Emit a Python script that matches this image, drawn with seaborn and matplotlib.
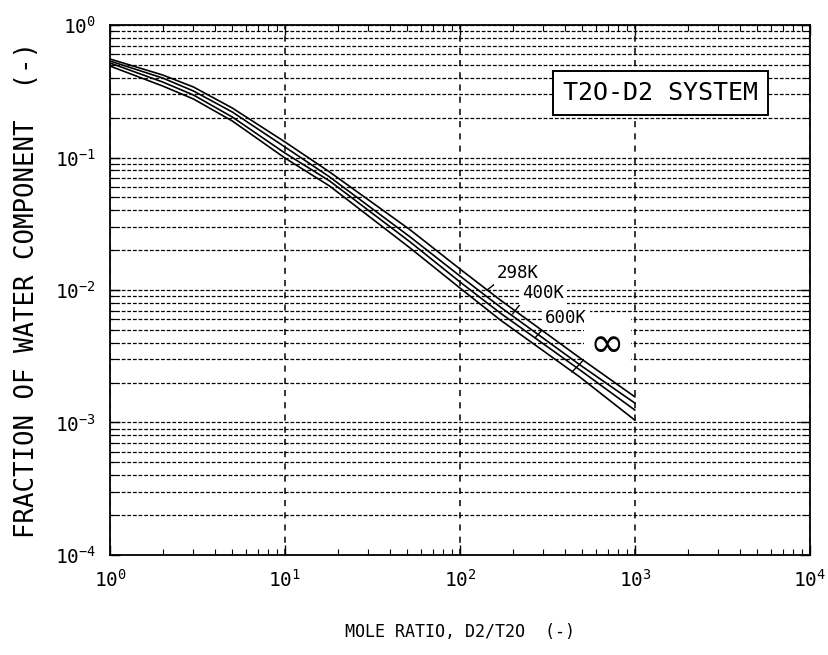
import numpy as np
import pandas as pd
import matplotlib
matplotlib.use("Agg")
import matplotlib.pyplot as plt
import seaborn as sns
from matplotlib.ticker import LogLocator, NullFormatter

# ---- data ----
mole_ratio = [1, 2, 3, 5, 10, 18, 52, 100, 170, 485, 1000]
frac_298K = [0.554, 0.4195, 0.3404, 0.2363, 0.131, 0.0777, 0.0284, 0.0144, 0.0084, 0.00307, 0.00156]
frac_400K = [0.535, 0.398, 0.3176, 0.2205, 0.120, 0.0713, 0.0251, 0.01275, 0.00744, 0.00272, 0.00140]
frac_600K = [0.517, 0.3713, 0.2962, 0.2021, 0.108, 0.0665, 0.0230, 0.0115, 0.0067, 0.00249, 0.00124]
frac_inf = [0.490, 0.3464, 0.2764, 0.1886, 0.0991, 0.0609, 0.0207, 0.01035, 0.00594, 0.00220, 0.00104]
series_names = ["298K", "400K", "600K", "\u221e"]

df = pd.DataFrame({
    "ratio": mole_ratio * 4,
    "frac": frac_298K + frac_400K + frac_600K + frac_inf,
    "temp": sum([[n] * len(mole_ratio) for n in series_names], []),
})

sns.set_theme(style="ticks")
plt.rcParams["font.family"] = ["DejaVu Sans Mono", "DejaVu Sans"]
plt.rcParams["mathtext.fontset"] = "custom"
plt.rcParams["mathtext.rm"] = "DejaVu Sans Mono"
plt.rcParams["mathtext.it"] = "DejaVu Sans Mono"
plt.rcParams["text.color"] = "black"
plt.rcParams["axes.labelcolor"] = "black"
plt.rcParams["xtick.color"] = "black"
plt.rcParams["ytick.color"] = "black"

fig = plt.figure(figsize=(8.29, 6.55), dpi=100)
ax = fig.add_axes([0.1327, 0.1527, 0.8443, 0.8091])

sns.lineplot(data=df, x="ratio", y="frac", hue="temp", palette=["black"] * 4,
             linewidth=1.2, legend=False, ax=ax, zorder=5)

ax.set_xscale("log")
ax.set_yscale("log")
ax.set_xlim(1, 1e4)
ax.set_ylim(1e-4, 1)

ax.xaxis.set_major_locator(LogLocator(base=10, numticks=10))
ax.yaxis.set_major_locator(LogLocator(base=10, numticks=10))
ax.xaxis.set_minor_locator(LogLocator(base=10, subs=np.arange(2, 10), numticks=20))
ax.yaxis.set_minor_locator(LogLocator(base=10, subs=np.arange(2, 10), numticks=20))
ax.xaxis.set_minor_formatter(NullFormatter())
ax.yaxis.set_minor_formatter(NullFormatter())

# grid: horizontal at every major/minor, vertical at decades only
ax.yaxis.grid(True, which="both", color="black", linewidth=0.9, linestyle=(0, (3, 1.5)), zorder=0)
ax.xaxis.grid(True, which="major", color="black", linewidth=1.1, linestyle=(0, (4, 4)), zorder=0)
ax.xaxis.grid(False, which="minor")

ax.tick_params(which="both", direction="in", top=True, right=True, colors="black")
ax.tick_params(which="major", length=7, width=1.0, labelsize=14, pad=10)
ax.tick_params(which="minor", length=4, width=0.8)
for s in ax.spines.values():
    s.set_linewidth(1.3)
    s.set_color("black")

ax.set_xlabel("MOLE RATIO, D2/T2O  (-)", fontsize=12)
ax.set_ylabel("FRACTION OF WATER COMPONENT  (-)", fontsize=18.5)
ax.xaxis.set_label_coords(0.5, -0.128)
ax.yaxis.set_label_coords(-0.1, 0.5)

ax.text(0.786, 0.871, "T2O-D2 SYSTEM", transform=ax.transAxes, fontsize=18,
        ha="center", va="center", zorder=6,
        bbox=dict(boxstyle="square,pad=0.4", fc="white", ec="black", lw=1.4))

bb = dict(boxstyle="square,pad=0.15", fc="white", ec="none")
arrow = dict(arrowstyle="-", color="black", lw=1.0, relpos=(0, 0), shrinkA=0, shrinkB=0)
ax.annotate("298K", xy=(143, 0.0100), xytext=(163, 0.0134), fontsize=12.5,
            va="center", ha="left", bbox=bb, arrowprops=arrow, zorder=4)
ax.annotate("400K", xy=(200, 0.0066), xytext=(226, 0.0095), fontsize=12.5,
            va="center", ha="left", bbox=bb, arrowprops=arrow, zorder=4)
ax.annotate("600K", xy=(268, 0.00434), xytext=(306, 0.00615), fontsize=12.5,
            va="center", ha="left", bbox=bb, arrowprops=arrow, zorder=4)
ax.annotate("\u221e", xy=(436, 0.0024), xytext=(553, 0.00385), fontsize=30,
            va="center", ha="left", family="DejaVu Sans", bbox=bb,
            arrowprops=dict(arrowstyle="-", color="black", lw=1.0, relpos=(0, 0.3),
                            shrinkA=0, shrinkB=0), zorder=4)

fig.savefig("out.png", dpi=100, facecolor="white")
